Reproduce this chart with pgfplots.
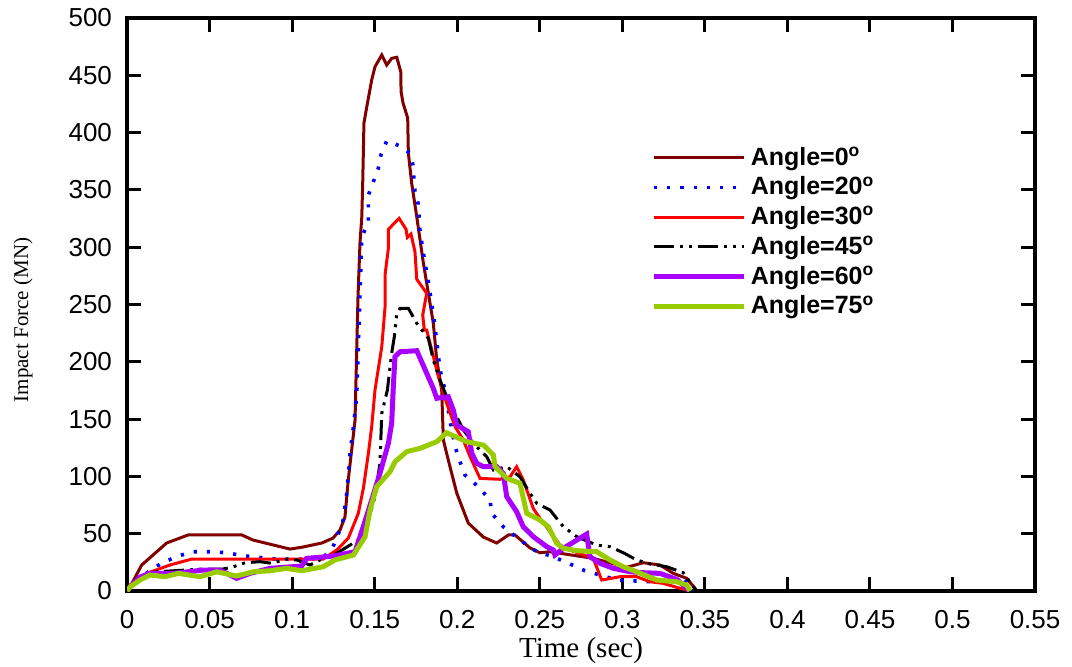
\documentclass[border=0pt]{standalone}
\usepackage{pgfplots}
\pgfplotsset{compat=1.18}
\usepackage{fontspec}
\setmainfont{Liberation Sans}
\newfontfamily\seriffont{Liberation Serif}
\definecolor{c0}{RGB}{128,0,0}
\definecolor{c20}{RGB}{0,0,255}
\definecolor{c30}{RGB}{255,0,0}
\definecolor{c60}{RGB}{170,0,255}
\definecolor{c75}{RGB}{153,204,0}
\begin{document}
\begin{tikzpicture}
\begin{axis}[
  scale only axis, width=454pt, height=286.5pt,
  xmin=0, xmax=0.55, ymin=0, ymax=500,
  xtick={0,0.05,0.1,0.15,0.2,0.25,0.3,0.35,0.4,0.45,0.5,0.55},
  xticklabels={0,0.05,0.1,0.15,0.2,0.25,0.3,0.35,0.4,0.45,0.5,0.55},
  ytick={0,50,100,150,200,250,300,350,400,450,500},
  tick align=inside, major tick length=7pt,
  axis line style={line width=2pt},
  every tick/.style={black, line width=1.5pt},
  ticklabel style={font=\fontsize{13}{15}\selectfont},
  /pgf/number format/assume math mode=true,
  yticklabel style={xshift=-4pt},
  xticklabel style={yshift=-6pt},
  xlabel={\seriffont\fontsize{14.5}{16}\selectfont Time (sec)},
  xlabel style={at={(axis description cs:0.5,-0.1152)}, anchor=base},
  ylabel={\seriffont\fontsize{10.5}{12}\selectfont Impact Force (MN)},
  ylabel style={at={(axis description cs:-0.1145,0.473)}, anchor=center},
  legend style={draw=none, fill=none, at={(rel axis cs:0.5705,0.79)}, anchor=north west,
    font=\bfseries\fontsize{12.5}{14}\selectfont, nodes={inner sep=2.15pt}},
  legend cell align=left,
  legend image code/.code={\draw[#1] (0pt,0pt) -- (45pt,0pt);},
]
\coordinate (bbll) at (rel axis cs:-0.1399,-0.1309);
\coordinate (bbur) at (rel axis cs:1.0407,1.0314);

\addplot[c0, line width=1.5pt] coordinates {
(0,0) (0.0018,3.5) (0.0089,22.7) (0.024,41.9) (0.037,48.9) (0.0695,48.9) (0.0763,44.5)
(0.0987,36.6) (0.1066,38.4) (0.118,41.9) (0.1248,46.2) (0.129,53.2) (0.132,64.6) (0.134,96.9)
(0.1381,149) (0.1399,256.5) (0.1411,303.7) (0.1422,326.4) (0.1428,358.6) (0.1435,408.4)
(0.1452,422.3) (0.1482,445.9) (0.1502,457.5) (0.1543,467.7) (0.1573,459) (0.1603,464.8)
(0.1634,465.7) (0.1658,453.1) (0.166,435.7) (0.1672,425.7) (0.17,412.7) (0.1704,382.2)
(0.1724,356) (0.1755,326.4) (0.1795,286.2) (0.1825,260) (0.1855,233.9) (0.1876,201.6)
(0.1906,175.4) (0.1916,131.8) (0.1946,114.3) (0.1997,85.5) (0.2067,59.3) (0.2158,47.1)
(0.2239,41.9) (0.231,48.9) (0.235,48.9) (0.2441,37.6) (0.2501,33.4) (0.2562,34.3)
(0.2824,28.5) (0.3027,20.7) (0.3127,24.7) (0.3228,22.7) (0.3309,15.4) (0.339,11.1)
(0.344,2.4) (0.3452,0)};
\addlegendentry{Angle=0\textsuperscript{o}}

\addplot[c20, line width=1.8pt, dash pattern=on 1.6pt off 5pt] coordinates {
(0,0) (0.0018,5.2) (0.0119,15.7) (0.021,24.4) (0.0309,30.5) (0.04,34.3) (0.0503,34.3)
(0.0604,33.4) (0.0703,30.8) (0.0796,29.4) (0.0897,27.9) (0.1005,27.9) (0.1096,27.9)
(0.1187,28.8) (0.1248,38.7) (0.1306,59.1) (0.1331,85.3) (0.1351,120.4) (0.1371,143.1)
(0.1391,169.3) (0.1401,212.9) (0.1417,286.2) (0.1422,308.9) (0.1462,322) (0.1462,345.5)
(0.1492,357.1) (0.1522,368.8) (0.1538,380.5) (0.1573,392.7) (0.1654,388.3) (0.1714,381.9)
(0.173,373.2) (0.1744,349) (0.1764,337.4) (0.1775,313.5) (0.1801,289.7) (0.1829,266.4)
(0.1865,231.2) (0.1896,192.8) (0.1926,175.4) (0.1956,149.2) (0.1987,125.9) (0.2017,112.8)
(0.2047,101.2) (0.2128,91) (0.2199,79.4) (0.2209,67.8) (0.2279,56.1) (0.238,44.5)
(0.2482,34.3) (0.2582,29.9) (0.2673,24.2) (0.2774,17.7) (0.2865,14) (0.2966,9.6)
(0.3168,8.1) (0.3269,7.6) (0.3369,11.1) (0.342,2.4) (0.343,0)};
\addlegendentry{Angle=20\textsuperscript{o}}

\addplot[c30, line width=1.5pt] coordinates {
(0,0) (0.0018,5.2) (0.0119,15.4) (0.026,22.7) (0.0392,27.9) (0.0765,27.9) (0.1189,27.9)
(0.127,35.8) (0.134,46) (0.1401,67.8) (0.1432,90) (0.1462,120.2) (0.1482,143.4)
(0.1502,175.4) (0.1543,213.2) (0.1563,248.1) (0.1563,276) (0.1583,299) (0.1583,315.6)
(0.1648,325.2) (0.169,315.6) (0.1698,308.6) (0.172,311.5) (0.1744,296.1) (0.1755,272)
(0.1815,259.8) (0.1791,240.8) (0.1801,227.7) (0.1815,227.7) (0.1846,210.3) (0.1886,187)
(0.1936,163.8) (0.1987,143.4) (0.2037,131.8) (0.2078,117.2) (0.2138,98.3) (0.2259,97.5)
(0.232,99.7) (0.236,108.5) (0.24,96.9) (0.2461,72) (0.2501,63.4) (0.2623,40.1)
(0.2683,35.8) (0.2824,28.5) (0.2875,9.6) (0.2986,12.5) (0.3087,12.5) (0.3168,8.1)
(0.3248,6.7) (0.3349,2.4) (0.339,0.9)};
\addlegendentry{Angle=30\textsuperscript{o}}

\addplot[black, line width=1.5pt, dash pattern=on 10pt off 3pt on 1.5pt off 3pt on 1.5pt off 3pt] coordinates {
(0,0) (0.0018,3.5) (0.0079,12.2) (0.0157,16.6) (0.046,19.2) (0.0581,19.2) (0.0634,20.7)
(0.0715,24.7) (0.0806,25.6) (0.0876,24.2) (0.0967,27.9) (0.1028,27.1) (0.1108,22.7)
(0.1169,27.1) (0.127,32.9) (0.1351,40.1) (0.1431,47.4) (0.1502,82.3) (0.1532,111.4)
(0.1543,155.1) (0.1577,175.4) (0.1603,207.4) (0.1619,221.9) (0.1634,242.3) (0.1654,246.7)
(0.1704,246.7) (0.1755,233.6) (0.1825,220.5) (0.1855,201.6) (0.1896,184.1) (0.1936,169.5)
(0.1997,152.1) (0.2037,140.5) (0.2098,128.9) (0.2179,117.2) (0.2219,105.6) (0.23,108.5)
(0.238,99.7) (0.2441,85.3) (0.2482,76.5) (0.2562,70.7) (0.2643,56.1) (0.2724,47.4)
(0.2845,40.1) (0.2925,38.7) (0.3006,33.4) (0.3087,27.1) (0.3168,23.6) (0.3269,21.2)
(0.3369,16) (0.343,3.8) (0.345,0)};
\addlegendentry{Angle=45\textsuperscript{o}}

\addplot[c60, line width=2.5pt] coordinates {
(0,0) (0.0018,3.5) (0.0079,12.2) (0.0139,15.4) (0.028,15.4) (0.0462,18.3) (0.0563,18.3)
(0.0664,11.1) (0.0745,15.4) (0.0866,19.8) (0.1058,21.8) (0.1088,28.5) (0.125,30.5)
(0.1381,34.3) (0.1431,56.1) (0.1482,79.4) (0.1532,102.7) (0.1583,128.9) (0.1603,146.3)
(0.1613,178.3) (0.1623,204.5) (0.1654,208.8) (0.1755,209.7) (0.1815,190) (0.1855,176.9)
(0.1876,168.2) (0.1946,169.5) (0.1976,157.9) (0.1997,144.9) (0.2067,139) (0.2088,120.2)
(0.2118,111.5) (0.2158,108.5) (0.2239,108.5) (0.2279,102.7) (0.23,82.3) (0.236,69.2)
(0.24,56.1) (0.2461,47.4) (0.2542,38.7) (0.2582,35.8) (0.2592,31.4) (0.2643,37.3)
(0.2784,49.7) (0.2804,29.9) (0.2865,24.2) (0.2946,19.8) (0.3047,16.8) (0.3127,16)
(0.3228,15.4) (0.333,10.2) (0.339,2.4) (0.3405,0)};
\addlegendentry{Angle=60\textsuperscript{o}}

\addplot[c75, line width=2.5pt] coordinates {
(0,0) (0.0018,3.5) (0.0079,9.6) (0.0139,14) (0.023,12.5) (0.0311,15.4) (0.0442,12.5)
(0.0543,16.8) (0.0664,13.1) (0.0765,16.8) (0.0866,17.7) (0.0967,19.8) (0.1058,17.7)
(0.1189,21.2) (0.126,27.1) (0.1371,31.4) (0.1442,47.4) (0.1472,70.7) (0.1512,91)
(0.1593,104.1) (0.1623,112.8) (0.1694,121.6) (0.1775,124.5) (0.1876,130.3) (0.1936,138.1)
(0.2058,130.3) (0.2158,127.4) (0.2219,118.7) (0.2229,108.5) (0.23,98.3) (0.238,94)
(0.2421,67.8) (0.2501,62) (0.2552,56.1) (0.2603,41.6) (0.2643,37.3) (0.2724,35.2)
(0.2845,34.3) (0.2925,27.1) (0.3006,21.2) (0.3087,16.8) (0.3208,9.6) (0.333,8.1)
(0.339,5.2) (0.341,0)};
\addlegendentry{Angle=75\textsuperscript{o}}
\end{axis}
\pgfresetboundingbox
\path (bbll) rectangle (bbur);
\end{tikzpicture}
\end{document}
